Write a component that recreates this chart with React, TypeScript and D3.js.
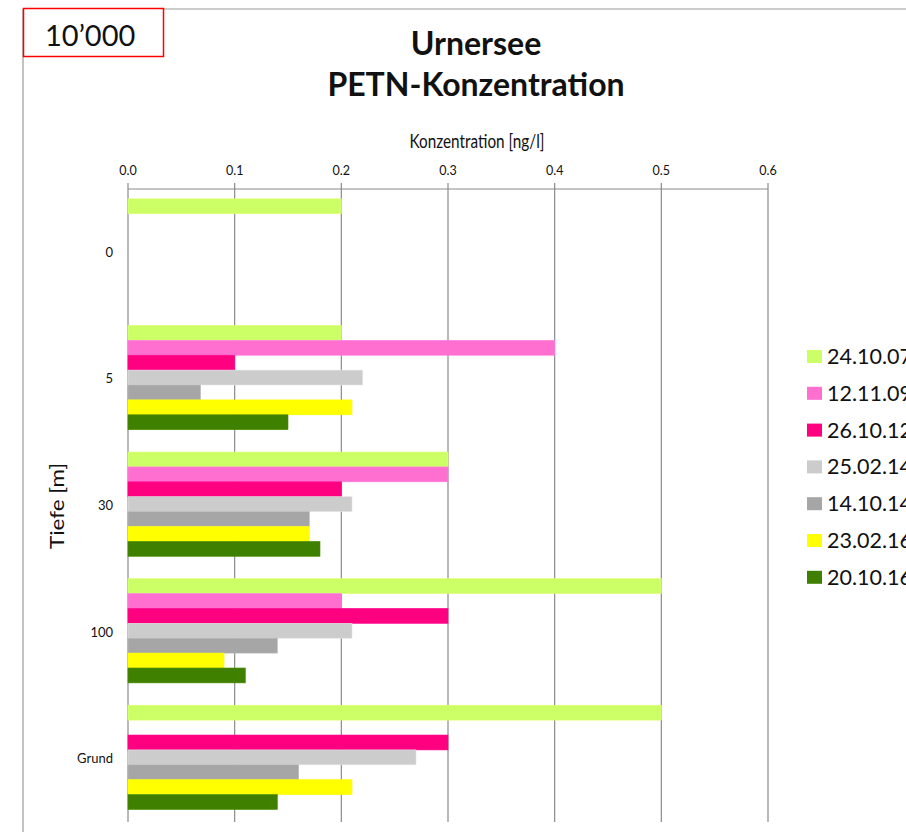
import React from "react";
import * as d3 from "d3";

const categories = ["0", "5", "30", "100", "Grund"];
const seriesNames = ["24.10.07", "12.11.09", "26.10.12", "25.02.14", "14.10.14", "23.02.16", "20.10.16"];
const seriesColors = ["#CCFF66", "#FF6FCF", "#FF0080", "#CCCCCC", "#A6A6A6", "#FFFF00", "#408000"];
// values per series, per category (null = no measurement)
const s20071024 = [0.2, 0.2, 0.3, 0.5, 0.5];
const s20091112 = [null, 0.4, 0.3, 0.2, null];
const s20121026 = [null, 0.1, 0.2, 0.3, 0.3];
const s20140225 = [null, 0.22, 0.21, 0.21, 0.27];
const s20141014 = [null, 0.068, 0.17, 0.14, 0.16];
const s20160223 = [null, 0.21, 0.17, 0.09, 0.21];
const s20161020 = [null, 0.15, 0.18, 0.11, 0.14];
const seriesValues = [s20071024, s20091112, s20121026, s20140225, s20141014, s20160223, s20161020];
const xTicks = [0, 0.1, 0.2, 0.3, 0.4, 0.5, 0.6];

export default function App() {
  const W = 906, H = 832;
  const left = 128, right = 768, top = 189, bottom = 822;
  const x = d3.scaleLinear().domain([0, 0.6]).range([left, right]);
  const y0 = d3.scaleBand<string>().domain(categories).range([top, bottom]).padding(0);
  const y1 = d3.scaleBand<string>().domain(seriesNames).range([0, y0.bandwidth()])
    .paddingInner(0).paddingOuter(0.75).align(0.44);
  const font = "Lato, 'Open Sans', sans-serif";
  return (
    <svg width={W} height={H} style={{ position: "absolute", left: 0, top: 0, background: "#fff" }} fontFamily={font}>
      <rect x={0} y={0} width={W} height={H} fill="#fff" />
      {/* chart border */}
      <line x1={23} y1={9} x2={W} y2={9} stroke="#9a9a9a" strokeWidth={1.2} />
      <line x1={23} y1={9} x2={23} y2={H} stroke="#9a9a9a" strokeWidth={1.2} />
      {/* red box */}
      <rect x={23.5} y={8.5} width={140} height={48} fill="#fff" stroke="#FF0000" strokeWidth={1.5} />
      <text x={45} y={46} fontSize={29} fill="#111">10’000</text>
      {/* title */}
      <text x={476} y={55} textAnchor="middle" fontSize={32} fontWeight="bold" fill="#111">Urnersee</text>
      <text x={476} y={96} textAnchor="middle" fontSize={32} fontWeight="bold" fill="#111">PETN-Konzentration</text>
      <text x={477} y={148} textAnchor="middle" fontSize={19.5} textLength={135} lengthAdjust="spacingAndGlyphs" fill="#111">Konzentration [ng/l]</text>
      {/* grid + ticks */}
      {xTicks.map((t) => (
        <g key={t}>
          <line x1={x(t)} x2={x(t)} y1={183} y2={bottom} stroke="#8a8a8a" strokeWidth={1.2} />
          <text x={x(t)} y={175} textAnchor="middle" fontSize={12.5} fill="#111">{t.toFixed(1)}</text>
        </g>
      ))}
      <line x1={left} x2={right} y1={top} y2={top} stroke="#8a8a8a" strokeWidth={1.2} />
      {/* bars */}
      {categories.map((c, ci) => (
        <g key={c} transform={`translate(0,${y0(c)})`}>
          {seriesNames.map((s, si) => {
            const v = seriesValues[si][ci];
            if (v == null) return null;
            return (
              <rect key={s} x={x(0)} y={y1(s)} width={x(v) - x(0)} height={y1.bandwidth()}
                fill={seriesColors[si]} stroke={d3.color(seriesColors[si])!.brighter(0.3).toString()} strokeWidth={0.6} />
            );
          })}
          <text x={113} y={y0.bandwidth() / 2 + 4.5} textAnchor="end" fontSize={13} fill="#111">{c}</text>
        </g>
      ))}
      {/* y axis title */}
      <text transform={`translate(64,506) rotate(-90)`} textAnchor="middle" fontSize={20} textLength={86} lengthAdjust="spacingAndGlyphs" fill="#111">Tiefe [m]</text>
      {/* legend */}
      {seriesNames.map((s, i) => (
        <g key={s} transform={`translate(807,${356.5 + i * 36.8})`}>
          <rect x={0} y={-6.5} width={15} height={13} fill={seriesColors[i]} />
          <text x={20} y={7.5} fontSize={21.5} fill="#111">{s}</text>
        </g>
      ))}
    </svg>
  );
}
